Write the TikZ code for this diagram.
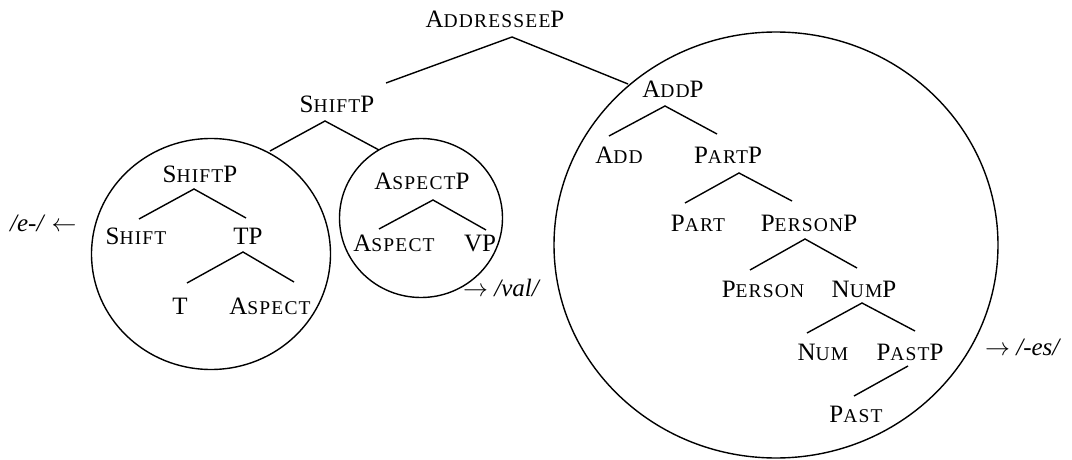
\documentclass[tikz,border=0pt]{standalone}
\usepackage{fontspec}
\setmainfont{Liberation Serif}
\newfontfamily\scfont[Scale=0.78,LetterSpace=6]{Liberation Serif}
\newcommand\sk[1]{{\scfont #1}}
\begin{document}
\begin{tikzpicture}[x=1pt,y=-1pt,
  lbl/.style={font=\fontsize{25}{29}\selectfont, inner sep=0pt, anchor=base},
  note/.style={font=\fontsize{25}{29}\selectfont, inner sep=0pt, anchor=base west},
  branch/.style={line width=1.4pt},
  ring/.style={line width=1.4pt}]
\useasboundingbox (0,0) rectangle (1072,460);

% bubbles around the spelled-out chunks
\draw[ring] (211,254) ellipse [x radius=119.5, y radius=115.5];
\draw[ring] (421,218) ellipse [x radius=81.5, y radius=79.5];
\draw[ring] (776,245) ellipse [x radius=222, y radius=213];

% labels
\node[lbl] (addr)    at (495,28)  {A\sk{DDRESSEE}P};
\node[lbl] (shiftp)  at (337,113) {S\sk{HIFT}P};
\node[lbl] (shiftpb) at (200,182) {S\sk{HIFT}P};
\node[lbl] (shift)   at (136,244) {S\sk{HIFT}};
\node[lbl] (tp)      at (248,244) {TP};
\node[lbl] (t)       at (180,314) {T};
\node[lbl] (aspa)    at (270,314) {A\sk{SPECT}};
\node[lbl] (aspp)    at (422,189) {A\sk{SPECT}P};
\node[lbl] (aspb)    at (394,251) {A\sk{SPECT}};
\node[lbl] (vp)      at (480,251) {VP};
\node[lbl] (addp)    at (673,98)  {A\sk{DD}P};
\node[lbl] (add)     at (619,164) {A\sk{DD}};
\node[lbl] (partp)   at (728,164) {P\sk{ART}P};
\node[lbl] (part)    at (698,231) {P\sk{ART}};
\node[lbl] (persp)   at (809,231) {P\sk{ERSON}P};
\node[lbl] (pers)    at (763,297) {P\sk{ERSON}};
\node[lbl] (nump)    at (864,297) {N\sk{UM}P};
\node[lbl] (num)     at (823,360) {N\sk{UM}};
\node[lbl] (pastp)   at (910,360) {P\sk{AST}P};
\node[lbl] (past)    at (856,422) {P\sk{AST}};

% exponents
\node[note] (exe)  at (10,231)  {\textit{/e-/} $\leftarrow$};
\node[note] (exv)  at (463,296) {$\rightarrow$ \textit{/val/}};
\node[note] (exes) at (985,355) {$\rightarrow$ \textit{/-es/}};

% branch points and branch ends
\coordinate (addr-a) at (512,37);  \coordinate (addr-l) at (386,83);  \coordinate (addr-r) at (628,84);
\coordinate (sh-a) at (325,121);   \coordinate (sh-l) at (270,151);   \coordinate (sh-r) at (379,150);
\coordinate (shb-a) at (194,189);  \coordinate (shb-l) at (139,219);  \coordinate (shb-r) at (246,218);
\coordinate (tp-a) at (243,252);   \coordinate (tp-l) at (187,283);   \coordinate (tp-r) at (294,282);
\coordinate (asp-a) at (433,200);  \coordinate (asp-l) at (379,229);  \coordinate (asp-r) at (486,230);
\coordinate (add-a) at (665,106);  \coordinate (add-l) at (609,136);  \coordinate (add-r) at (717,134);
\coordinate (part-a) at (739,173); \coordinate (part-l) at (685,203); \coordinate (part-r) at (792,201);
\coordinate (pers-a) at (805,239); \coordinate (pers-l) at (750,270); \coordinate (pers-r) at (857,268);
\coordinate (num-a) at (862,303);  \coordinate (num-l) at (807,333);  \coordinate (num-r) at (915,331);
\coordinate (past-a) at (908,366); \coordinate (past-l) at (854,396);

\draw[branch] (addr-l) -- (addr-a) -- (addr-r);
\draw[branch] (sh-l) -- (sh-a) -- (sh-r);
\draw[branch] (shb-l) -- (shb-a) -- (shb-r);
\draw[branch] (tp-l) -- (tp-a) -- (tp-r);
\draw[branch] (asp-l) -- (asp-a) -- (asp-r);
\draw[branch] (add-l) -- (add-a) -- (add-r);
\draw[branch] (part-l) -- (part-a) -- (part-r);
\draw[branch] (pers-l) -- (pers-a) -- (pers-r);
\draw[branch] (num-l) -- (num-a) -- (num-r);
\draw[branch] (past-a) -- (past-l);
\end{tikzpicture}
\end{document}
